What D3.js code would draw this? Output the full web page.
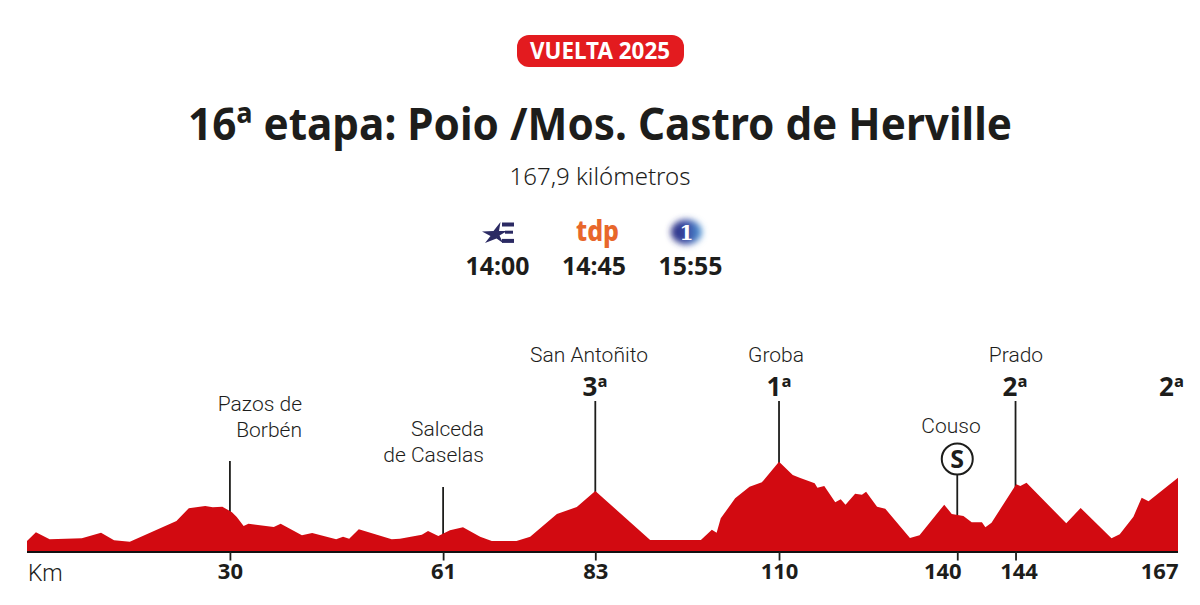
<!DOCTYPE html>
<html>
<head>
<meta charset="utf-8">
<script src="https://cdn.jsdelivr.net/npm/d3@7"></script>
<style>
  html, body { margin: 0; padding: 0; background: #fff; }
  svg { display: block; }
  text { fill: #1d1d1b; }
  .head { font-family: "Noto Sans", sans-serif; font-weight: 700; }
  .light { font-family: Roboto, sans-serif; font-weight: 300; }
</style>
</head>
<body>
<div id="chart"></div>
<script>
/* profile: km along the stage, altitude in metres (estimated) */
const profile_km = [0,1.3,3.3,8,10.8,12.7,15,21.8,23.6,26,27.1,28.5,29.9,30.6,31.6,32.3,36,37,40.1,41.6,45.1,46.1,47,48.4,53.2,54.4,57.6,58.5,60,61.7,63.6,66.1,67.8,71.4,73.4,77.3,80.2,82.9,90.9,98.3,99.9,100.6,101.2,103.3,105.4,107.2,109.7,111.7,112.8,114.9,115.3,116.3,117.9,118.7,119.4,120.8,121.8,122.4,124,125.2,128.8,130.2,133.8,134.9,136.6,137.8,139.3,139.8,140.7,144.3,144.9,145.8,151.6,153.7,158.2,159.4,161.4,162.6,163.6,167.9];
const profile_alt = [63,115,73,79,113,67,59,183,259,273,265,269,235,207,153,167,147,167,97,111,73,89,77,133,73,77,101,123,93,127,145,89,63,63,89,225,267,363,69,69,131,113,199,319,389,415,539,459,441,409,383,393,295,313,281,347,341,359,269,257,81,97,281,225,213,175,175,145,173,403,393,413,169,261,79,103,209,323,301,443];

/* km axis: labels as printed, with where each one sits along the drawn profile */
const tick_labels = ["30","61","83","110","140","144","167"];
const tick_km = [29.6,60.7,82.9,109.7,135.7,144.2,167.9];

/* climbs and passes */
const stem_km = [29.6,60.7,82.9,109.7,135.7,144.2];
const stem_top_alt = [543,387,903,903,459,903];

const broadcast_times = ["14:00","14:45","15:55"];

const width = 1200, height = 605;
const baseline = 551.5;

const x = d3.scaleLinear().domain([0,167.9]).range([27,1178]);
const y = d3.scaleLinear().domain([0,600]).range([baseline,baseline-100]);

const svg = d3.select("#chart").append("svg")
  .attr("width",width)
  .attr("height",height)
  .attr("viewBox",[0,0,width,height].join(" "));

const defs = svg.append("defs");
defs.append("filter")
  .attr("id","blur")
  .attr("x","-50%").attr("y","-50%")
  .attr("width","200%").attr("height","200%")
  .append("feGaussianBlur").attr("stdDeviation",3);
var tve_grad = defs.append("linearGradient").attr("id","tve");
tve_grad.append("stop").attr("offset","0%").attr("stop-color","#27287f");
tve_grad.append("stop").attr("offset","55%").attr("stop-color","#3d52a8");
tve_grad.append("stop").attr("offset","100%").attr("stop-color","#4f9ad8");

/* header */
svg.append("rect")
  .attr("x",517).attr("y",35)
  .attr("width",167).attr("height",32)
  .attr("rx",12)
  .attr("fill","#e31b1f");
svg.append("text")
  .attr("class","head")
  .text("VUELTA 2025")
  .attr("x",600).attr("y",59)
  .attr("text-anchor","middle")
  .attr("font-size",22.5)
  .attr("textLength",140)
  .attr("lengthAdjust","spacingAndGlyphs")
  .style("fill","#fff");
svg.append("text")
  .attr("class","head")
  .text("16ª etapa: Poio /Mos. Castro de Herville")
  .attr("x",600).attr("y",140)
  .attr("text-anchor","middle")
  .attr("font-size",45)
  .attr("textLength",824)
  .attr("lengthAdjust","spacingAndGlyphs");
svg.append("text")
  .text("167,9 kilómetros")
  .attr("x",600).attr("y",185)
  .attr("text-anchor","middle")
  .attr("font-family","'Noto Sans', sans-serif")
  .attr("font-weight",300)
  .attr("font-size",24);

/* broadcasters */
const logo = svg.append("g");
logo.append("path")
  .attr("d","M482 231.5 L493.5 231 L500.5 222 L499 231 L507 231 L499.5 235.5 L503 243 L496.5 238.5 L485 243 L490.5 236 Z")
  .attr("fill","#2b2a63");
logo.selectAll("rect.bar")
  .data([0,1,2])
  .enter()
  .append("rect")
  .attr("class","bar")
  .attr("x",(d)=> d === 1 ? 505 : 502)
  .attr("y",(d)=>222.5 + d*8.2)
  .attr("width",(d)=> d === 1 ? 8 : 12)
  .attr("height",(d)=> d === 1 ? 3 : 4)
  .attr("fill","#2b2a63");
logo.append("text")
  .text("tdp")
  .attr("x",597.5).attr("y",241)
  .attr("text-anchor","middle")
  .attr("font-family","'Noto Sans', sans-serif")
  .attr("font-weight",800)
  .attr("font-size",28)
  .attr("textLength",43)
  .attr("lengthAdjust","spacingAndGlyphs")
  .style("fill","#e8672b");
logo.append("ellipse")
  .attr("cx",686.5).attr("cy",232)
  .attr("rx",15.5).attr("ry",12.5)
  .attr("fill","url(#tve)")
  .attr("filter","url(#blur)");
logo.append("text")
  .text("1")
  .attr("x",686.5).attr("y",239.5)
  .attr("text-anchor","middle")
  .attr("font-family","'DejaVu Serif', serif")
  .attr("font-weight",700)
  .attr("font-size",20)
  .style("fill","#fff");

svg.selectAll("text.time")
  .data(broadcast_times)
  .enter()
  .append("text")
  .attr("class","time head")
  .text((d)=>d)
  .attr("x",(d,i)=>497.5 + i*96.5)
  .attr("y",275)
  .attr("text-anchor","middle")
  .attr("font-size",24.5)
  .attr("textLength",64)
  .attr("lengthAdjust","spacingAndGlyphs");

/* stems sit behind the red profile */
svg.selectAll("line.stem")
  .data(stem_km)
  .enter()
  .append("line")
  .attr("class","stem")
  .attr("x1",(d)=>x(d)).attr("x2",(d)=>x(d))
  .attr("y1",(d,i)=>y(stem_top_alt[i]))
  .attr("y2",baseline)
  .attr("stroke","#1d1d1b")
  .attr("stroke-width",1.8);

const area = d3.area()
  .x((d)=>x(d))
  .y0(baseline)
  .y1((d,i)=>y(profile_alt[i]));
svg.append("path")
  .datum(profile_km)
  .attr("d",area)
  .attr("fill","#d20a11");

/* axis */
const axis = d3.axisBottom(x)
  .tickValues(tick_km)
  .tickFormat((d,i)=>tick_labels[i])
  .tickSize(9)
  .tickPadding(3);
const axis_g = svg.append("g")
  .attr("transform","translate(0," + baseline + ")")
  .call(axis);
axis_g.select(".domain")
  .attr("d","M" + x(0) + ",0.5H" + x(167.9))
  .attr("stroke","#111")
  .attr("stroke-width",2);
axis_g.selectAll(".tick line")
  .attr("stroke","#1d1d1b")
  .attr("stroke-width",1.8)
  .attr("opacity",(d,i)=> i === 6 ? 0 : 1);
axis_g.selectAll(".tick text")
  .attr("class","head")
  .attr("font-size",22)
  .attr("dx",(d,i)=> i === 4 ? -15 : i === 5 ? 3 : 0)
  .attr("text-anchor",(d,i)=> i === 6 ? "end" : "middle")
  .style("fill","#1d1d1b");

svg.append("text")
  .attr("class","light")
  .text("Km")
  .attr("x",28).attr("y",581)
  .attr("font-size",23);

/* place names */
const place = function(txt, px, py, anchor) {
  svg.append("text")
    .attr("class","light")
    .text(txt)
    .attr("x",px).attr("y",py)
    .attr("text-anchor",anchor)
    .attr("font-size",21);
};
place("Pazos de",302,411,"end");
place("Borbén",302,437,"end");
place("Salceda",484,436,"end");
place("de Caselas",484,462,"end");
place("San Antoñito",589,362,"middle");
place("Groba",776,362,"middle");
place("Couso",951,433,"middle");
place("Prado",1016,362,"middle");

/* climb categories */
const cat = function(txt, px) {
  svg.append("text")
    .attr("class","head")
    .text(txt)
    .attr("x",px).attr("y",396)
    .attr("text-anchor","middle")
    .attr("font-size",26);
};
cat("3ª",595);
cat("1ª",779);
cat("2ª",1015);
cat("2ª",1171.5);

/* sprint marker */
svg.append("circle")
  .attr("cx",x(135.7)).attr("cy",459)
  .attr("r",15.5)
  .attr("fill","#fff")
  .attr("stroke","#1d1d1b")
  .attr("stroke-width",2);
svg.append("text")
  .attr("class","head")
  .text("S")
  .attr("x",x(135.7)).attr("y",468)
  .attr("text-anchor","middle")
  .attr("font-size",25);
</script>
</body>
</html>
